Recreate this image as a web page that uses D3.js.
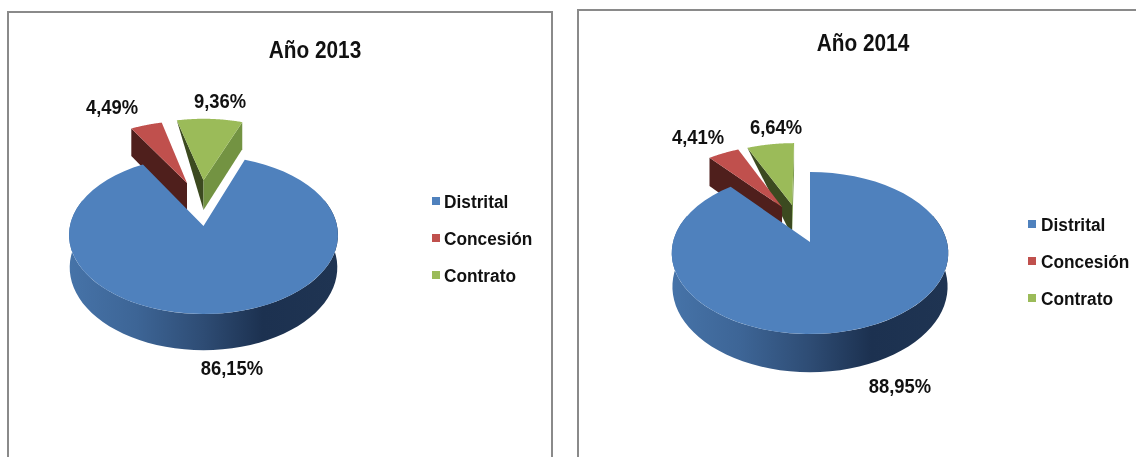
<!DOCTYPE html>
<html><head><meta charset="utf-8">
<script src="https://cdnjs.cloudflare.com/ajax/libs/d3/7.8.5/d3.min.js"></script>
<style>html,body{margin:0;background:#fff}svg{display:block;filter:blur(.35px)}text{font-family:"Liberation Sans",Arial,sans-serif;font-weight:bold;fill:#111}</style>
</head><body><svg id="c" width="1136" height="457"></svg>
<script>
const categories=["Distrital","Concesión","Contrato"];
const values2013=[86.15,4.49,9.36];
const values2014=[88.95,4.41,6.64];
const titles=["Año 2013","Año 2014"];
const colors=["#4f81bd","#c0504d","#9bbb59"];
const darkFaces={left:["#1c3150","#4f1f1c","#3c4a20"],right:["#1c3150","#4f1f1c","#739342"]};

const layouts=[
 {values:values2013,title:titles[0],start:20,xc:203.5,yc:226,A:78,B:133.6,b:.114,D:32,
  explode:[[0,0],[-.132,.59],[0,.63]],greenOuter:0,
  frame:[8,12,552,470],titleXY:[315,50],legend:[436,205],legendText:444,
  labels:[[232,368],[112,107],[220,101]]},
 {values:values2014,title:titles[1],start:0,xc:810,yc:242,A:79.5,B:137,b:.136,D:33,
  explode:[[0,0],[-.217,.468],[-.14,.497]],greenOuter:0,
  frame:[578,10,1150,470],titleXY:[863,43],legend:[1032,228],legendText:1041,
  labels:[[900,386],[698,137],[776,127]]}
];
const svg=d3.select("#c");
const defs=svg.append("defs");
const line=d3.line().x(d=>d[0]).y(d=>d[1]);
const fmt=v=>v.toFixed(2).replace(".",",")+"%";
const rad=d3.scaleLinear().domain([0,360]).range([0,2*Math.PI]);
// the reference's type is tall and narrow: squeeze each string horizontally
function squeezed(sel,factor){
  sel.each(function(){this.setAttribute("textLength",this.getComputedTextLength()*factor);});
  return sel.attr("lengthAdjust","spacingAndGlyphs");
}

layouts.forEach((L,i)=>{
  const g=svg.append("g");
  const [x0,y0,x1,y1]=L.frame;
  g.append("path").attr("d",`M${x0},${y1}V${y0}H${x1}V${y1}`).attr("fill","none").attr("stroke","#8a8a8a").attr("stroke-width",2);
  squeezed(g.append("text").attr("x",L.titleXY[0]).attr("y",L.titleXY[1]+8).attr("text-anchor","middle").attr("font-size",23).text(L.title),.905);

  const sx=d3.scaleLinear().domain([-1,1]).range([L.xc-L.B,L.xc+L.B]);
  const sy=d3.scaleLinear().domain([-1,1]).range([L.yc+L.A,L.yc-L.A]);
  // perspective projection of a disc point (u,v) at depth z (0 = top face, 1 = bottom face)
  const P=(u,v,z=0,xs=1)=>{const s=1/(1+L.b*v);
    return [sx(u*s*xs),sy(v*s)+z*L.D*s];};
  const arcs=d3.pie().sort(null).value(d=>d).startAngle(rad(L.start)).endAngle(rad(L.start+360))(L.values);
  const rim=(a,ex,z=0,xs=1)=>[Math.sin(a)+ex[0],Math.cos(a)+ex[1],z,xs];
  const samples=(a0,a1)=>d3.range(0,61).map(k=>a0+(a1-a0)*k/60);
  const layer=d3.select(g.node());

  // exploded slices, back to front: green, then red
  [2,1].forEach(k=>{
    const a=arcs[k],ex=L.explode[k];
    const apex=[ex[0],ex[1]];
    const oL=rim(a.startAngle,ex),oR=rim(a.endAngle,ex);
    const outerL=k===2?L.greenOuter:1;
    layer.append("path").attr("d",line([P(...apex),P(oL[0],oL[1]),P(oL[0],oL[1],outerL),P(apex[0],apex[1],1)])+"Z").attr("fill",darkFaces.left[k]);
    if(k===2) layer.append("path").attr("d",line([P(...apex),P(oR[0],oR[1]),P(oR[0],oR[1],1),P(apex[0],apex[1],1)])+"Z").attr("fill",darkFaces.right[k]);
    const rimPts=samples(a.startAngle,a.endAngle).map(t=>{const r=rim(t,ex);return P(r[0],r[1]);});
    layer.append("path").attr("d",line([P(...apex),...rimPts])+"Z").attr("fill",colors[k]);
  });

  // blue wall with horizontal shading
  const gid="wall"+i;
  const gr=defs.append("linearGradient").attr("id",gid);
  [[0,"#4673a8"],[.25,"#3d6596"],[.5,"#2e4c74"],[.72,"#1c3150"],[1,"#1f3452"]].forEach(s=>gr.append("stop").attr("offset",s[0]).attr("stop-color",s[1]));
  const a=arcs[0];
  const wall=samples(rad(70),rad(290));
  const top=wall.map(t=>{const r=rim(t,[0,0]);return P(r[0],r[1]);});
  const bot=wall.slice().reverse().map(t=>{const r=rim(t,[0,0]);return P(r[0],r[1],1,.995);});
  layer.append("path").attr("d",line([...top,...bot])+"Z").attr("fill",`url(#${gid})`);
  const face=samples(a.startAngle,a.endAngle).map(t=>{const r=rim(t,[0,0]);return P(r[0],r[1]);});
  layer.append("path").attr("d",line([P(0,0),...face])+"Z").attr("fill",colors[0]);

  // labels
  L.values.forEach((v,k)=>{
    squeezed(layer.append("text").attr("x",L.labels[k][0]).attr("y",L.labels[k][1]+7).attr("text-anchor","middle").attr("font-size",20).text(fmt(v)),.92);
  });
  // legend
  categories.forEach((c,k)=>{
    const y=L.legend[1]+k*37;
    layer.append("rect").attr("x",L.legend[0]-4).attr("y",y-8).attr("width",8).attr("height",8).attr("fill",colors[k]);
    squeezed(layer.append("text").attr("x",L.legendText).attr("y",y+3).attr("font-size",18).text(c),.96);
  });
});
</script></body></html>
